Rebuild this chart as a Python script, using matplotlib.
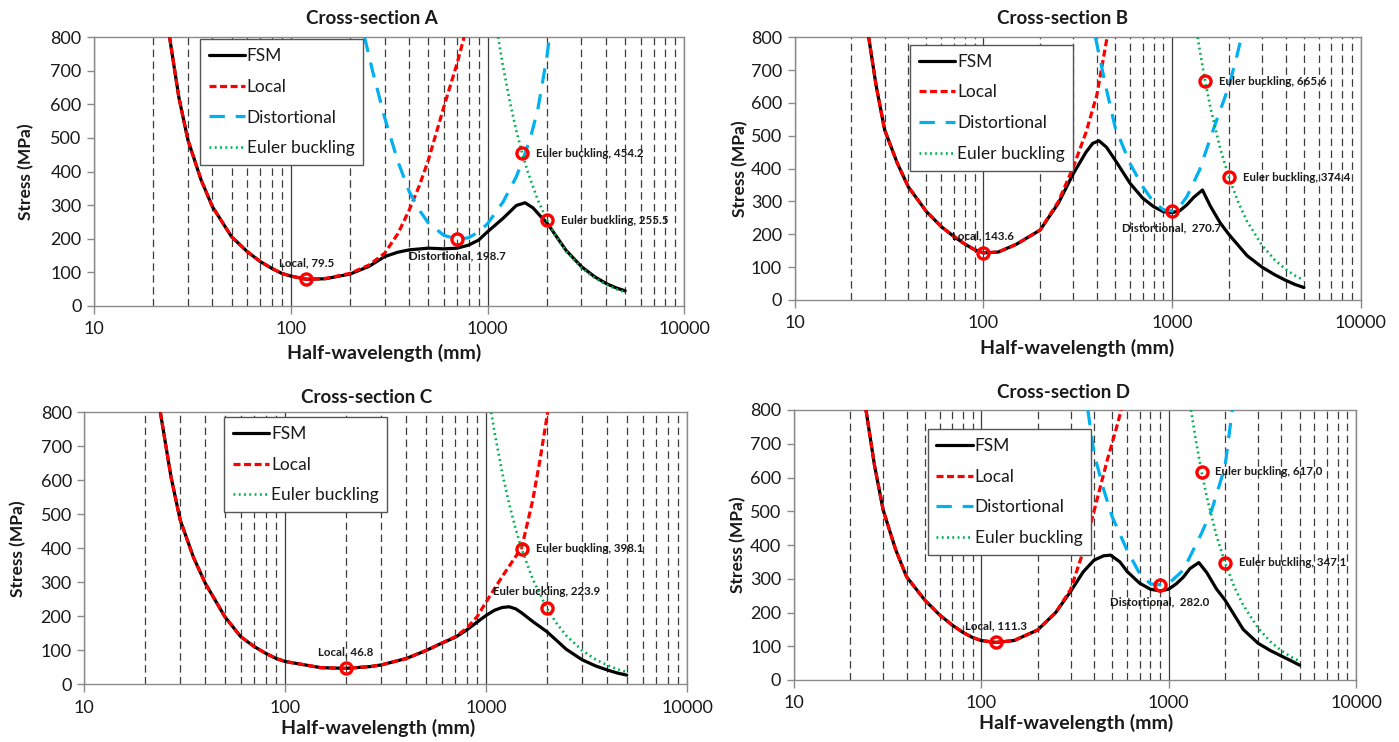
import matplotlib
matplotlib.use('Agg')
import matplotlib.pyplot as plt
from matplotlib.ticker import FixedLocator, NullFormatter, FixedFormatter
from matplotlib.lines import Line2D

plt.rcParams['font.family'] = ['Lato', 'DejaVu Sans']

# ---------------- Cross-section A ----------------
A_fsm_x = [24.2, 27, 30, 35, 40, 50, 60, 70, 80, 90, 100, 120, 150, 200, 250, 300, 350, 400, 500,
           600, 700, 800, 900, 1000, 1200, 1400, 1550, 1700, 1850, 2000, 2500, 3000, 3500, 4000, 4500, 5000]
A_fsm_y = [800, 620, 494, 375, 295, 206, 162, 132, 112, 97, 89, 79.5, 81, 95, 118, 147, 160, 167, 172,
           170, 172, 181, 196, 221, 261, 299, 307, 292, 268, 248, 166, 117, 87, 67, 54, 45]
A_local_x = [24.2, 27, 30, 35, 40, 50, 60, 70, 80, 90, 100, 120, 150, 200, 250, 300, 350, 400, 450, 500, 600, 700, 760]
A_local_y = [800, 620, 494, 375, 295, 206, 162, 132, 112, 97, 89, 79.5, 82, 97, 122, 157, 215, 286, 358, 434, 593, 722, 800]
A_dist_x = [237, 260, 300, 350, 400, 450, 500, 600, 700, 800, 900, 1000, 1200, 1400, 1500, 1650, 1800, 2000, 2060]
A_dist_y = [800, 700, 560, 430, 340, 285, 247, 210, 198.7, 203, 220, 245, 310, 385, 430, 500, 585, 740, 800]
A_euler_x = [1130, 1200, 1300, 1400, 1500, 1600, 1800, 2000, 2250, 2500, 3000, 3500, 4000, 4500, 5000]
A_euler_y = [800, 710, 605, 521, 454.2, 399, 315, 255.5, 202, 163.5, 113.6, 83.4, 63.9, 50.5, 40.9]
A_mark_x = [120, 700, 1500, 2000]
A_mark_y = [79.5, 198.7, 454.2, 255.5]
A_mark_text = ['Local, 79.5', 'Distortional, 198.7', 'Euler buckling, 454.2', 'Euler buckling, 255.5']
A_mark_side = ['above', 'below', 'right', 'right']

# ---------------- Cross-section B ----------------
B_fsm_x = [24.7, 27, 30, 35, 40, 50, 60, 70, 80, 90, 100, 120, 150, 200, 250, 300, 350, 380, 410, 450, 500,
           600, 700, 800, 900, 1000, 1100, 1200, 1300, 1450, 1600, 1800, 2000, 2500, 3000, 3500, 4000, 4500, 5000]
B_fsm_y = [800, 655, 518, 417, 345, 269, 223, 193, 170, 153, 143.6, 146, 170, 213, 295, 385, 450, 477, 485, 465, 426,
           355, 310, 284, 269, 266, 272, 290, 312, 335, 285, 235, 200, 135, 100, 77, 60, 47, 38]
B_local_x = [24.7, 27, 30, 35, 40, 50, 60, 70, 80, 90, 100, 120, 150, 200, 250, 300, 350, 400, 453]
B_local_y = [800, 655, 518, 417, 345, 269, 223, 193, 170, 153, 143.6, 146, 170, 213, 300, 405, 510, 625, 800]
B_dist_x = [393, 420, 450, 500, 600, 700, 800, 900, 1000, 1100, 1200, 1400, 1500, 1700, 2000, 2200, 2330]
B_dist_y = [800, 720, 640, 525, 415, 345, 298, 275, 270.7, 285, 315, 396, 447, 538, 650, 740, 800]
B_euler_x = [1368, 1400, 1500, 1600, 1800, 2000, 2250, 2500, 3000, 3500, 4000, 4500, 5000]
B_euler_y = [800, 764, 665.6, 585, 462, 374.4, 296, 239.6, 166.4, 122.3, 93.6, 74, 59.9]
B_mark_x = [100, 1000, 1500, 2000]
B_mark_y = [143.6, 270.7, 665.6, 374.4]
B_mark_text = ['Local, 143.6', 'Distortional,  270.7', 'Euler buckling, 665.6', 'Euler buckling, 374.4']
B_mark_side = ['above', 'below', 'right', 'right']

# ---------------- Cross-section C ----------------
C_fsm_x = [23.9, 27, 30, 35, 40, 50, 60, 70, 80, 90, 100, 150, 200, 264, 300, 400, 500, 600, 700, 800, 900,
           1000, 1100, 1200, 1300, 1400, 1500, 1700, 2000, 2500, 3000, 3500, 4000, 4500, 5000]
C_fsm_y = [800, 610, 483, 372, 297, 199, 140, 111, 91, 76, 67, 49, 46.8, 52, 57, 76, 99, 121, 138, 160, 183,
           203, 218, 226, 228, 222, 210, 185, 155, 103, 72, 54, 42, 33, 27]
C_local_x = [23.9, 27, 30, 35, 40, 50, 60, 70, 80, 90, 100, 150, 200, 264, 300, 400, 500, 600, 700, 800, 900,
             1000, 1200, 1500, 1700, 1850, 2020]
C_local_y = [800, 610, 483, 372, 297, 199, 140, 111, 91, 76, 67, 49, 46.8, 52, 57, 76, 99, 121, 140, 165, 199,
             243, 317, 402, 540, 660, 800]
C_euler_x = [1058, 1100, 1200, 1300, 1400, 1500, 1700, 2000, 2250, 2500, 3000, 3500, 4000, 4500, 5000]
C_euler_y = [800, 740, 622, 530, 457, 398.1, 310, 223.9, 177, 143.3, 99.5, 73.1, 56, 44.2, 35.8]
C_mark_x = [200, 1500, 2000]
C_mark_y = [46.8, 398.1, 223.9]
C_mark_text = ['Local, 46.8', 'Euler buckling, 398.1', 'Euler buckling, 223.9']
C_mark_side = ['above', 'right', 'above']

# ---------------- Cross-section D ----------------
D_fsm_x = [24.3, 27, 30, 35, 40, 50, 60, 70, 80, 90, 100, 120, 150, 200, 250, 300, 350, 400, 450, 490, 550,
           600, 700, 800, 900, 1000, 1100, 1200, 1300, 1450, 1600, 1800, 2000, 2500, 3000, 3500, 4000, 4500, 5000]
D_fsm_y = [800, 635, 504, 386, 306, 237, 193, 163, 141, 126, 117, 111.3, 117, 148, 200, 262, 320, 355, 368, 370, 350,
           322, 287, 269, 264, 269, 285, 305, 330, 348, 318, 270, 237, 150, 109, 87, 71, 57, 44]
D_local_x = [24.3, 27, 30, 35, 40, 50, 60, 70, 80, 90, 100, 120, 150, 200, 250, 300, 350, 400, 470, 520, 559]
D_local_y = [800, 635, 504, 386, 306, 237, 193, 163, 141, 126, 117, 111.3, 117, 148, 200, 268, 380, 500, 650, 735, 800]
D_dist_x = [371, 400, 450, 500, 600, 700, 800, 900, 1000, 1200, 1500, 1700, 2000, 2187]
D_dist_y = [800, 672, 565, 484, 385, 316, 285, 282.0, 285, 326, 435, 504, 632, 800]
D_euler_x = [1317, 1400, 1500, 1600, 1800, 2000, 2250, 2500, 3000, 3500, 4000, 4500, 5000]
D_euler_y = [800, 708, 617.0, 542, 428.5, 347.1, 274, 222.1, 154.3, 113.3, 86.8, 68.6, 55.5]
D_mark_x = [120, 900, 1500, 2000]
D_mark_y = [111.3, 282.0, 617.0, 347.1]
D_mark_text = ['Local, 111.3', 'Distortional,  282.0', 'Euler buckling, 617.0', 'Euler buckling, 347.1']
D_mark_side = ['above', 'below', 'right', 'right']

x_major = [10, 100, 1000, 10000]
x_major_labels = ['10', '100', '1000', '10000']
x_minor = [20, 30, 40, 50, 60, 70, 80, 90, 200, 300, 400, 500, 600, 700, 800, 900,
           2000, 3000, 4000, 5000, 6000, 7000, 8000, 9000]
y_ticks = [0, 100, 200, 300, 400, 500, 600, 700, 800]

RED = '#FF0000'
BLUE = '#00B0F0'
GREEN = '#00B050'
GRID = '#3c3c3c'
AXC = '#8a8a8a'
TXT = '#1a1a1a'

FSM_STYLE = dict(color='black', lw=2.3, ls='-', solid_capstyle='round')
LOC_STYLE = dict(color=RED, lw=2.3, ls=(0, (2.2, 1.1)))
DIS_STYLE = dict(color=BLUE, lw=2.3, ls=(0, (4.8, 3.4)))
EUL_STYLE = dict(color=GREEN, lw=1.9, ls=(0, (0.7, 1.3)))

W, H = 1399, 742
fig = plt.figure(figsize=(W / 100, H / 100), dpi=100)


def rect(x0, x1, ytop, ybot):
    return [x0 / W, 1 - ybot / H, (x1 - x0) / W, (ybot - ytop) / H]


def panel(r, title, fsm, local, dist, euler, mx, my, mtext, mside, leg_xy, ylab_x, xlab_xy, title_xy):
    ax = fig.add_axes(r)
    ax.set_xscale('log')
    ax.set_xlim(10, 10000)
    ax.set_ylim(0, 800)
    ax.xaxis.set_major_locator(FixedLocator(x_major))
    ax.xaxis.set_major_formatter(FixedFormatter(x_major_labels))
    ax.xaxis.set_minor_locator(FixedLocator(x_minor))
    ax.xaxis.set_minor_formatter(NullFormatter())
    ax.set_yticks(y_ticks)
    ax.grid(True, which='major', axis='x', color=GRID, lw=0.9, ls='-', zorder=0)
    ax.grid(True, which='minor', axis='x', color=GRID, lw=0.9, ls=(0, (6, 3.5)), zorder=0)
    ax.set_axisbelow(True)
    for s in ax.spines.values():
        s.set_color(AXC)
        s.set_linewidth(1.0)
    ax.tick_params(axis='x', which='major', direction='out', length=6, width=1, color=AXC,
                   labelsize=13, labelcolor=TXT, pad=5)
    ax.tick_params(axis='x', which='minor', length=0)
    ax.tick_params(axis='y', direction='out', length=5, width=1, color=AXC,
                   labelsize=13, labelcolor=TXT, pad=4)

    handles = []
    labels = []
    ax.plot(fsm[0], fsm[1], zorder=3, **FSM_STYLE)
    handles.append(Line2D([], [], **FSM_STYLE)); labels.append('FSM')
    ax.plot(local[0], local[1], zorder=4, **LOC_STYLE)
    handles.append(Line2D([], [], **LOC_STYLE)); labels.append('Local')
    if dist is not None:
        ax.plot(dist[0], dist[1], zorder=4, **DIS_STYLE)
        handles.append(Line2D([], [], **DIS_STYLE)); labels.append('Distortional')
    ax.plot(euler[0], euler[1], zorder=5, **EUL_STYLE)
    handles.append(Line2D([], [], **EUL_STYLE)); labels.append('Euler buckling')

    ax.plot(mx, my, ls='none', marker='o', ms=8, mfc='none', mec=RED, mew=2.4, zorder=7)
    for x, y, t, s in zip(mx, my, mtext, mside):
        if s == 'above':
            off, ha, va = (0, 8), 'center', 'bottom'
        elif s == 'below':
            off, ha, va = (0, -8), 'center', 'top'
        else:
            off, ha, va = (10, 0), 'left', 'center'
        ax.annotate(t, xy=(x, y), xytext=off, textcoords='offset points', ha=ha, va=va,
                    fontsize=8.3, fontweight='bold', color=TXT, zorder=8)

    leg = ax.legend(handles, labels, loc='upper left', bbox_to_anchor=leg_xy, borderaxespad=0,
                    frameon=True, fancybox=False, edgecolor='#555555', framealpha=1,
                    handlelength=2.1, handletextpad=0.1, labelspacing=0.85,
                    borderpad=0.5, prop={'size': 12.5})
    leg.get_frame().set_linewidth(1.0)
    leg.set_zorder(10)
    for t in leg.get_texts():
        t.set_color(TXT)

    ax.set_ylabel('Stress (MPa)', fontsize=12.5, fontweight='bold', color=TXT)
    ax.yaxis.set_label_coords(ylab_x, 0.5)
    ax.set_xlabel('Half-wavelength (mm)', fontsize=14, fontweight='bold', color=TXT)
    ax.xaxis.set_label_coords(xlab_xy[0], xlab_xy[1])
    ax.text(title_xy[0], title_xy[1], title, transform=ax.transAxes, ha='center', va='center',
            fontsize=13.5, fontweight='bold', color=TXT)
    return ax


panel(rect(94, 684.4, 37, 306), 'Cross-section A',
      (A_fsm_x, A_fsm_y), (A_local_x, A_local_y), (A_dist_x, A_dist_y), (A_euler_x, A_euler_y),
      A_mark_x, A_mark_y, A_mark_text, A_mark_side,
      (0.1795, 0.9914), -0.102, (0.491, -0.142), (0.471, 1.068))

panel(rect(794.6, 1360.7, 37.3, 300), 'Cross-section B',
      (B_fsm_x, B_fsm_y), (B_local_x, B_local_y), (B_dist_x, B_dist_y), (B_euler_x, B_euler_y),
      B_mark_x, B_mark_y, B_mark_text, B_mark_side,
      (0.2039, 0.9707), -0.082, (0.499, -0.150), (0.473, 1.070))

panel(rect(84.3, 687.3, 412.3, 684.3), 'Cross-section C',
      (C_fsm_x, C_fsm_y), (C_local_x, C_local_y), None, (C_euler_x, C_euler_y),
      C_mark_x, C_mark_y, C_mark_text, C_mark_side,
      (0.2317, 0.9816), -0.097, (0.487, -0.126), (0.469, 1.053))

panel(rect(793.7, 1356, 410, 680), 'Cross-section D',
      (D_fsm_x, D_fsm_y), (D_local_x, D_local_y), (D_dist_x, D_dist_y), (D_euler_x, D_euler_y),
      D_mark_x, D_mark_y, D_mark_text, D_mark_side,
      (0.2383, 0.9285), -0.085, (0.502, -0.124), (0.479, 1.063))

fig.savefig('out.png', dpi=100, facecolor='white')
